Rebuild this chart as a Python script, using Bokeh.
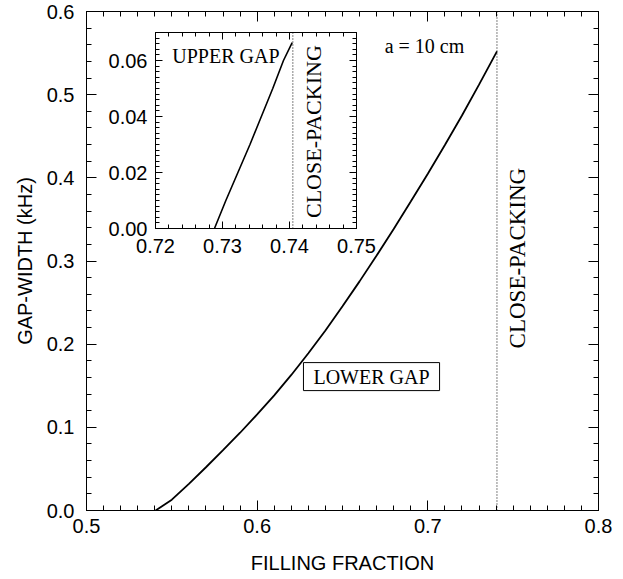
import numpy as np
from bokeh.plotting import figure
from bokeh.layouts import column
from bokeh.models import (Range1d, LinearAxis, FixedTicker, PrintfTickFormatter,
                          Label, Span)
from bokeh.embed import file_html
from bokeh.resources import INLINE

# ---------------- data ----------------
# main panel: lower gap width (kHz) vs filling fraction
main_x = [0.5405, 0.550, 0.560, 0.570, 0.580, 0.590, 0.600, 0.610, 0.620, 0.630,
          0.640, 0.650, 0.660, 0.670, 0.680, 0.690, 0.700, 0.710, 0.720, 0.730, 0.7405]
main_y = [0.000, 0.013, 0.032, 0.052, 0.0725, 0.0935, 0.1155, 0.1385, 0.163, 0.189,
          0.2165, 0.2455, 0.2755, 0.3065, 0.3385, 0.3715, 0.405, 0.4395, 0.475, 0.512, 0.552]
# inset: upper gap
inset_x = [0.7288, 0.7305, 0.7323, 0.7341, 0.7358, 0.7375, 0.7391, 0.7404]
inset_y = [0.000, 0.010, 0.020, 0.030, 0.040, 0.050, 0.060, 0.0664]
close_packing = 0.7405

main_xticks = [0.5, 0.6, 0.7, 0.8]
main_yticks = [0.0, 0.1, 0.2, 0.3, 0.4, 0.5, 0.6]
inset_xticks = [0.72, 0.73, 0.74, 0.75]
inset_yticks = [0.00, 0.02, 0.04, 0.06]

SANS = "Liberation Sans"
SERIF = "Liberation Serif"


def style_axis(ax, ticker, fmt, size, tin, tmin, standoff, hidden=False):
    ax.ticker = ticker
    ax.formatter = PrintfTickFormatter(format=fmt)
    ax.major_tick_in = tin
    ax.major_tick_out = 0
    ax.minor_tick_in = tmin
    ax.minor_tick_out = 0
    ax.major_tick_line_color = "black"
    ax.minor_tick_line_color = "black"
    ax.major_label_text_font = SANS
    ax.major_label_text_color = "black"
    ax.major_label_text_font_size = size
    ax.major_label_standoff = standoff
    ax.axis_line_color = "black"
    if hidden:
        ax.major_label_text_font_size = "1px"
        ax.major_label_text_color = None
        ax.major_label_standoff = 0
        ax.axis_line_color = None


# ---------------- main figure ----------------
p = figure(width=623, height=576, x_range=Range1d(0.5, 0.8), y_range=Range1d(0, 0.6),
           output_backend="svg", toolbar_location=None,
           min_border_left=86, min_border_right=25, min_border_top=11, min_border_bottom=64)
p.xgrid.visible = False
p.ygrid.visible = False
p.outline_line_color = "black"
p.outline_line_width = 1

xt = FixedTicker(ticks=main_xticks, minor_ticks=list(np.round(np.arange(0.5, 0.8001, 0.01), 3)))
yt = FixedTicker(ticks=main_yticks, minor_ticks=list(np.round(np.arange(0.0, 0.6001, 0.02), 3)))

style_axis(p.xaxis[0], xt, "%.1f", "20px", 10, 5, 8)
style_axis(p.yaxis[0], yt, "%.1f", "20px", 10, 5, 12)
p.xaxis[0].axis_label = "FILLING FRACTION"
p.yaxis[0].axis_label = "GAP-WIDTH (kHz)"
for ax in (p.xaxis[0], p.yaxis[0]):
    ax.axis_label_text_font = SANS
    ax.axis_label_text_font_size = "20px"
    ax.axis_label_text_font_style = "normal"
    ax.axis_label_text_color = "black"
p.xaxis[0].axis_label_standoff = 16
p.yaxis[0].axis_label_standoff = 8

top_ax = LinearAxis()
style_axis(top_ax, xt, "%.1f", "20px", 10, 5, 0, hidden=True)
p.add_layout(top_ax, "above")
right_ax = LinearAxis()
style_axis(right_ax, yt, "%.1f", "20px", 10, 5, 0, hidden=True)
p.add_layout(right_ax, "right")

p.line(main_x, main_y, line_color="black", line_width=1.8)
p.add_layout(Span(location=close_packing, dimension="height", line_color="black",
                  line_width=1, line_dash="1 2"))

p.add_layout(Label(x=0.698, y=0.558, text="a = 10 cm", text_font=SERIF,
                   text_font_size="20px", text_align="center", text_baseline="middle",
                   text_color="black"))
p.add_layout(Label(x=0.7525, y=0.3035, text="CLOSE-PACKING", text_font=SERIF,
                   text_font_size="23px", text_align="center", text_baseline="middle",
                   angle=90, angle_units="deg", text_color="black"))
p.add_layout(Label(x=0.667, y=0.161, text="LOWER GAP", text_font=SERIF,
                   text_font_size="20px", text_align="center", text_baseline="middle",
                   text_color="black", border_line_color="black", border_line_width=1,
                   background_fill_color="white",
                   padding=dict(left=10, right=10, top=3, bottom=3)))

# ---------------- inset figure ----------------
# (borders match the main figure's, since the column aligns them)
ins = figure(width=312, height=241, x_range=Range1d(0.72, 0.75), y_range=Range1d(0, 0.07),
             output_backend="svg", toolbar_location=None,
             min_border_left=86, min_border_right=25, min_border_top=10, min_border_bottom=35,
             margin=(-554, 0, 313, 69))
ins.border_fill_alpha = 0
ins.background_fill_color = "white"
ins.xgrid.visible = False
ins.ygrid.visible = False
ins.outline_line_color = "black"
ins.outline_line_width = 1

ixt = FixedTicker(ticks=inset_xticks, minor_ticks=list(np.round(np.arange(0.72, 0.75001, 0.002), 4)))
iyt = FixedTicker(ticks=inset_yticks, minor_ticks=list(np.round(np.arange(0.0, 0.07001, 0.002), 4)))
style_axis(ins.xaxis[0], ixt, "%.2f", "20px", 7, 4, 10)
style_axis(ins.yaxis[0], iyt, "%.2f", "20px", 7, 4, 8)
itop = LinearAxis()
style_axis(itop, ixt, "%.2f", "20px", 7, 4, 0, hidden=True)
ins.add_layout(itop, "above")
iright = LinearAxis()
style_axis(iright, iyt, "%.2f", "20px", 7, 4, 0, hidden=True)
ins.add_layout(iright, "right")

ins.line(inset_x, inset_y, line_color="black", line_width=1.6)
ins.add_layout(Span(location=close_packing, dimension="height", line_color="black",
                    line_width=1, line_dash="1 2"))
ins.add_layout(Label(x=0.7225, y=0.0617, text="UPPER GAP", text_font=SERIF,
                     text_font_size="20px", text_align="left", text_baseline="middle",
                     text_color="black"))
ins.add_layout(Label(x=0.7436, y=0.0346, text="CLOSE-PACKING", text_font=SERIF,
                     text_font_size="22px", text_align="center", text_baseline="middle",
                     angle=90, angle_units="deg", text_color="black"))

layout = column(p, ins)
open("out.html", "w").write(file_html(layout, INLINE))
